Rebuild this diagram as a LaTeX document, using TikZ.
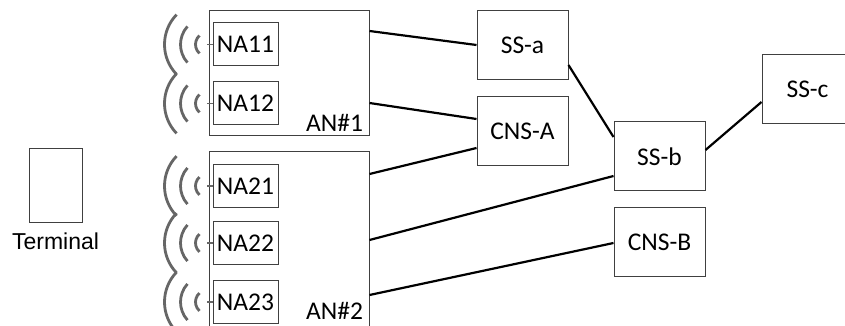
\documentclass[tikz,border=0pt]{standalone}
\usepackage{fontspec}
\setmainfont{Carlito}
\newfontfamily\termfont{Liberation Sans}
\usetikzlibrary{positioning}
\tikzset{
    box/.style={
        draw=black!75,
        line width=1pt,
        inner sep=0pt,
        font=\fontsize{25.5}{30}\selectfont
    },
    core/.style={
        box,
        minimum width=91pt,
        minimum height=69pt
    },
    an/.style={
        box,
        minimum width=160pt
    },
    na/.style={
        box,
        minimum width=65pt,
        minimum height=43pt
    },
    link/.style={
        draw,
        line width=2.2pt
    },
    wave/.style={
        draw=black!60,
        line width=2.8pt
    },
    stub/.style={
        draw=black!60,
        line width=1.4pt
    }
}

\begin{document}
\begin{tikzpicture}[x=1pt,y=1pt]
            \clip (0,0) rectangle (845,326);
            % access nodes
            \node[an, minimum height=125pt] (an1) at (289,252.5) {};
            \node[an, minimum height=180pt] (an2) at (289,84) {};
            \node[na] (na11) at (245.5,281.5) {NA11};
            \node[na, below=15pt of na11] (na12) {NA12};
            \node[na] (na21) at (245.5,140) {NA21};
            \node[na, below=13pt of na21] (na22) {NA22};
            \node[na, below=15pt of na22] (na23) {NA23};
            \node[box, draw=none, anchor=south east] (an1lab) at ([xshift=-6pt,yshift=4pt]an1.south east) {AN\#1};
            \node[box, draw=none, anchor=south east] (an2lab) at ([xshift=-6pt,yshift=12pt]an2.south east) {AN\#2};

            % core side
            \node[core] (ssa) at (522.5,280.5) {SS-a};
            \node[core, below=16pt of ssa] (cnsa) {CNS-A};
            \node[core] (ssb) at (659.5,169.5) {SS-b};
            \node[core, below=16pt of ssb] (cnsb) {CNS-B};
            \node[core] (ssc) at (807.5,236.5) {SS-c};

            % terminal
            \node[box, minimum width=53pt, minimum height=74pt] (term) at (55.5,140) {};
            \node[below=9pt of term, inner sep=0pt, font=\termfont\fontsize{23}{26}\selectfont] (termlab) {Terminal};

            % radio waves
            \foreach \na in {na11,na12,na21,na22,na23} {
                \draw[stub] (\na.west) -- ++(-6,0);
                \foreach \r/\a in {12/48,27/42,43/44}
                    \draw[wave] ([xshift=-5pt]\na.west) ++(180-\a:\r) arc[start angle=180-\a, end angle=180+\a, radius=\r];
            }

            % links
            \draw[link] ([yshift=42.5pt]an1.east) -- ([yshift=0.5pt]ssa.west);
            \draw[link] ([yshift=-29.5pt]an1.east) -- ([yshift=12.5pt]cnsa.west);
            \draw[link] ([yshift=68pt]an2.east) -- ([yshift=-16.5pt]cnsa.west);
            \draw[link] ([yshift=-19.5pt]ssa.east) -- ([yshift=19.5pt]ssb.west);
            \draw[link] ([yshift=2pt]an2.east) -- ([yshift=-19.5pt]ssb.west);
            \draw[link] ([yshift=-53pt]an2.east) -- ([yshift=-0.5pt]cnsb.west);
            \draw[link] ([yshift=6.5pt]ssb.east) -- ([yshift=-12.5pt]ssc.west);
\end{tikzpicture}
\end{document}
